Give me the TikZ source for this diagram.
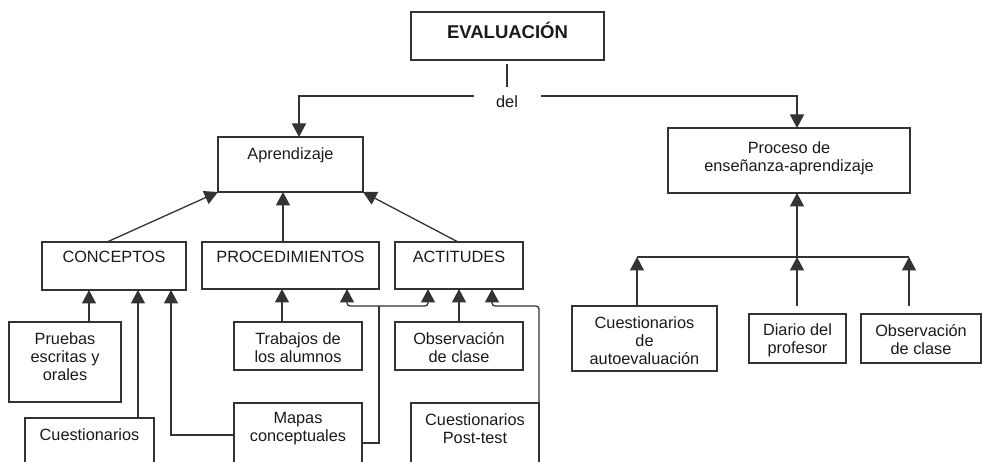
\documentclass[tikz,border=0pt]{standalone}
\usepackage{fontspec}
\setmainfont{Liberation Sans}
\usetikzlibrary{arrows.meta,calc}
\definecolor{ln}{HTML}{333333}
\definecolor{tx}{HTML}{1A1A1A}
\begin{document}
\begin{tikzpicture}[x=1pt,y=-1pt,
  box/.style={draw=ln,line width=1.3pt,rectangle,anchor=north west,inner sep=0pt,outer sep=0pt},
  lbl/.style={text=tx,font=\fontsize{16.3}{18}\selectfont,align=center,inner sep=0pt,anchor=center},
  arr/.style={draw=ln,line width=1.3pt,-{Triangle[width=14pt,length=13.5pt]}},
  con/.style={draw=ln,line width=1.3pt}]
\useasboundingbox (0,0) rectangle (983,462);
\clip (0,0) rectangle (983,462);
% boxes
\node[box,minimum width=193pt,minimum height=48pt] (eva) at (411,12) {};
\node[box,minimum width=145pt,minimum height=55pt] (apr) at (218,137) {};
\node[box,minimum width=144pt,minimum height=48pt] (conc) at (42,242) {};
\node[box,minimum width=177pt,minimum height=47pt] (proc) at (202,242) {};
\node[box,minimum width=128pt,minimum height=47pt] (act) at (395,242) {};
\node[box,minimum width=242pt,minimum height=65pt] (pro) at (668,128) {};
\node[box,minimum width=112pt,minimum height=80pt] (pru) at (9,322) {};
\node[box,minimum width=129pt,minimum height=70pt] (cue) at (25,418) {};
\node[box,minimum width=128pt,minimum height=48pt] (tra) at (234,322) {};
\node[box,minimum width=128pt,minimum height=80pt] (map) at (234,403) {};
\node[box,minimum width=128pt,minimum height=48pt] (obs) at (395,322) {};
\node[box,minimum width=128pt,minimum height=80pt] (post) at (411,403) {};
\node[box,minimum width=145pt,minimum height=65pt] (auto) at (572,306) {};
\node[box,minimum width=97pt,minimum height=49pt] (dia) at (749,314) {};
\node[box,minimum width=120pt,minimum height=49pt] (obr) at (861,314) {};
% texts
\node[lbl,font=\fontsize{18.5}{20}\selectfont\bfseries] (teva) at (507.5,30) {EVALUACIÓN};
\node[lbl] (del) at (507,102) {del};
\node[lbl] (tapr) at (290.5,155) {Aprendizaje};
\node[lbl] (tconc) at (114,257) {CONCEPTOS};
\node[lbl] (tproc) at (290.5,257) {PROCEDIMIENTOS};
\node[lbl] (tact) at (459,257) {ACTITUDES};
\node[lbl] (tpro) at (789,158) {Proceso de\\enseñanza-aprendizaje};
\node[lbl] (tpru) at (65,357) {Pruebas\\escritas y\\orales};
\node[lbl] (tcue) at (89.5,435) {Cuestionarios};
\node[lbl] (ttra) at (298,348) {Trabajos de\\los alumnos};
\node[lbl] (tmap) at (298,429) {Mapas\\conceptuales};
\node[lbl] (tobs) at (459,348) {Observación\\de clase};
\node[lbl] (tpost) at (475,429) {Cuestionarios\\Post-test};
\node[lbl] (tauto) at (644.5,341) {Cuestionarios\\de\\autoevaluación};
\node[lbl] (tdia) at (797.5,340) {Diario del\\profesor};
\node[lbl] (tobr) at (921,340) {Observación\\de clase};
% guide coordinates
\coordinate (hl) at (474,96);
\coordinate (hr) at (541,96);
\coordinate (xl) at (299,0);
\coordinate (xr) at (797,0);
\coordinate (x107) at (107,0);
\coordinate (x283) at (283,0);
\coordinate (x458) at (458,0);
\coordinate (x89) at (89,0);
\coordinate (x138) at (138,0);
\coordinate (x171) at (171,0);
\coordinate (x282) at (282,0);
\coordinate (x347) at (347,0);
\coordinate (x428) at (428,0);
\coordinate (x492) at (492,0);
\coordinate (j1) at (379,306);
\coordinate (ml) at ($(map.north west)+(0,32)$);
\coordinate (mr) at ($(map.north east)+(0,40)$);
\coordinate (bl) at (637,257);
\coordinate (br) at (909,257);
\coordinate (dtop) at (797,306);
\coordinate (otop) at (909,306);
% top connectors
\draw[con] ($(eva.south)+(-0.5,4)$) -- ($(eva.south)+(-0.5,27)$);
\draw[arr] (hl) -| (apr.north -| xl);
\draw[arr] (hr) -| (pro.north -| xr);
% to Aprendizaje
\draw[arr] (conc.north -| x107) -- (apr.south west);
\draw[arr] (proc.north -| x283) -- (apr.south -| x283);
\draw[arr] (act.north -| x458) -- (apr.south east);
% to CONCEPTOS
\draw[arr] (pru.north -| x89) -- (conc.south -| x89);
\draw[arr] (cue.north -| x138) -- (conc.south -| x138);
\draw[arr] (ml) -| (conc.south -| x171);
% to PROCEDIMIENTOS / ACTITUDES
\draw[arr] (tra.north -| x282) -- (proc.south -| x282);
\draw[con] (mr) -| (j1);
\draw[arr,rounded corners=3pt] (j1) -| (proc.south -| x347);
\draw[arr,rounded corners=3pt] (j1) -| (act.south -| x428);
\draw[arr] (obs.north) -- (act.south);
\draw[arr,rounded corners=3pt] (post.north east) -- (post.north east |- j1) -| (act.south -| x492);
% right branch
\draw[con] (bl) -- (br);
\draw[arr] (bl |- auto.north) -- (bl);
\draw[arr] (dtop) -- (dtop |- bl);
\draw[arr] (otop) -- (br);
\draw[arr] (xr |- bl) -- (pro.south -| xr);
\end{tikzpicture}
\end{document}
